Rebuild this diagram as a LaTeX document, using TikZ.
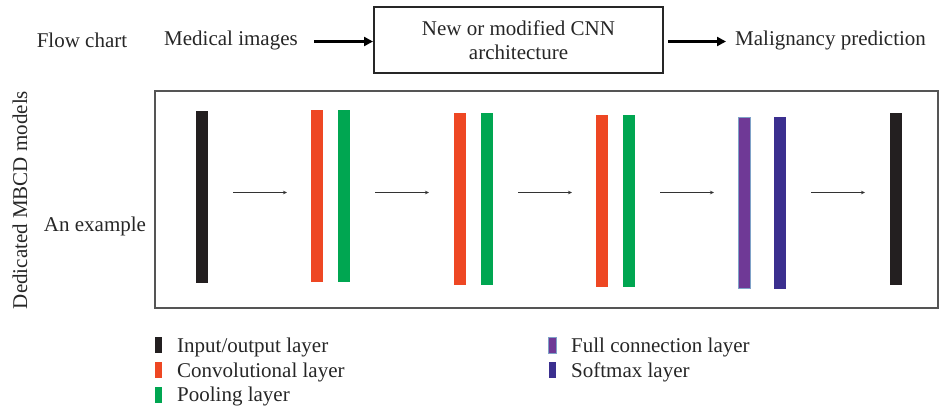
\documentclass[tikz,border=0pt]{standalone}
\usepackage{fontspec}
\setmainfont{Liberation Serif}
\usetikzlibrary{arrows.meta}

\definecolor{ioblack}{HTML}{231F20}
\definecolor{convred}{HTML}{EE4723}
\definecolor{poolgreen}{HTML}{00A651}
\definecolor{fcpurple}{HTML}{6F3996}
\definecolor{fcedge}{HTML}{7FA2C8}
\definecolor{smblue}{HTML}{3B2F8F}
\definecolor{framegray}{HTML}{555555}

\tikzset{
  lbl/.style={font=\fontsize{21}{25}\selectfont, text=black!85, inner sep=0pt},
  layerbar/.style={minimum width=12pt, minimum height=172pt, inner sep=0pt, outer sep=0pt},
  bigarrow/.style={line width=2.8pt, -{Triangle[length=9pt,width=9pt]}},
  thinarrow/.style={line width=1.1pt, black!80, -{Stealth[length=4pt,width=3.5pt]}},
  keybox/.style={minimum width=7.5pt, minimum height=16pt, inner sep=0pt},
}

\begin{document}
\begin{tikzpicture}[x=1pt, y=-1pt]
\useasboundingbox (0,0) rectangle (940,408);

% ---- flow chart row ----
\node[lbl] (fc) at (82,40) {Flow chart};
\node[lbl] (med) at (231,40) {Medical images};
\node[draw=black!85, line width=1.2pt, minimum width=289pt, minimum height=66pt,
      inner sep=0pt, align=center, font=\fontsize{21}{24}\selectfont, text=black!85]
      (cnn) at (518.5,40) {New or modified CNN\\architecture};
\node[lbl, anchor=west] (pred) at (735,40) {Malignancy prediction};

\coordinate (a1s) at (314,41.5);
\coordinate (a1e) at (373,41.5);
\coordinate (a2s) at (668,41.5);
\coordinate (a2e) at (726,41.5);
\draw[bigarrow] (a1s) -- (a1e);
\draw[bigarrow] (a2s) -- (a2e);

% ---- example frame ----
\node[draw=framegray, line width=1.6pt, minimum width=783pt, minimum height=217pt,
      inner sep=0pt] (frame) at (546.5,199.5) {};
\node[lbl, rotate=90] (mbcd) at (20,200) {Dedicated MBCD models};
\node[lbl] (ex) at (95,226) {An example};

% layers
\node[layerbar, fill=ioblack]   (in)  at (202,197) {};
\node[layerbar, fill=convred]   (c1)  at (317,196) {};
\node[layerbar, fill=poolgreen] (p1)  at (344,196) {};
\node[layerbar, fill=convred]   (c2)  at (460,199) {};
\node[layerbar, fill=poolgreen] (p2)  at (487,199) {};
\node[layerbar, fill=convred]   (c3)  at (602,201) {};
\node[layerbar, fill=poolgreen] (p3)  at (629,201) {};
\node[layerbar, fill=fcpurple, draw=fcedge, line width=0.8pt, minimum width=11.5pt, minimum height=171pt] (fcl) at (744.5,203) {};
\node[layerbar, fill=smblue]    (sm)  at (780,203) {};
\node[layerbar, fill=ioblack]   (out) at (896,199) {};

% arrows between layers
\coordinate (b1s) at (233,192.5); \coordinate (b1e) at (287,192.5);
\coordinate (b2s) at (375,192.5); \coordinate (b2e) at (429,192.5);
\coordinate (b3s) at (518,192.5); \coordinate (b3e) at (572,192.5);
\coordinate (b4s) at (660,192.5); \coordinate (b4e) at (714,192.5);
\coordinate (b5s) at (811,192.5); \coordinate (b5e) at (865,192.5);
\foreach \i in {1,...,5} \draw[thinarrow] (b\i s) -- (b\i e);

% ---- legend ----
\node[keybox, fill=ioblack]   (k1) at (158.5,345) {};
\node[keybox, fill=convred]   (k2) at (158.5,370) {};
\node[keybox, fill=poolgreen] (k3) at (158.5,395) {};
\node[keybox, fill=fcpurple, draw=fcedge, line width=0.8pt] (k4) at (552.5,345) {};
\node[keybox, fill=smblue]    (k5) at (552.5,370) {};

\node[lbl, anchor=base west] (t1) at (177,352) {Input/output layer};
\node[lbl, anchor=base west] (t2) at (177,377) {Convolutional layer};
\node[lbl, anchor=base west] (t3) at (177,401) {Pooling layer};
\node[lbl, anchor=base west] (t4) at (571,352) {Full connection layer};
\node[lbl, anchor=base west] (t5) at (571,377) {Softmax layer};
\end{tikzpicture}
\end{document}
